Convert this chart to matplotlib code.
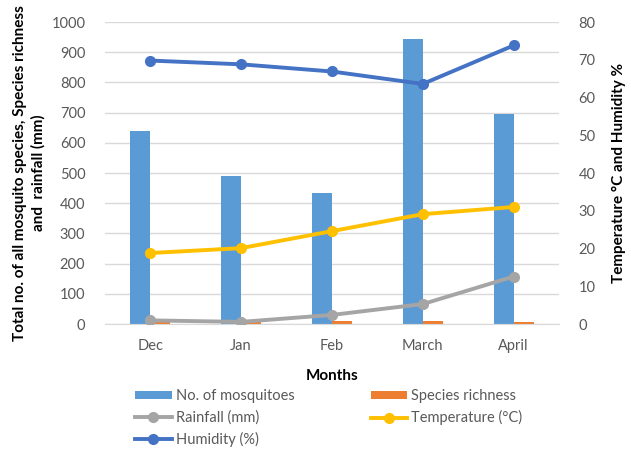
import matplotlib.pyplot as plt
import numpy as np

plt.rcParams['font.family'] = ['Lato', 'DejaVu Sans']

months = ['Dec', 'Jan', 'Feb', 'March', 'April']
mosquitoes = [640, 490, 435, 945, 695]
species_richness = [7, 6, 9, 9, 8]
rainfall = [12, 7, 30, 66, 157]
temperature = [18.8, 20.1, 24.6, 29.1, 31.0]
humidity = [69.8, 68.8, 66.9, 63.6, 73.8]

x = np.arange(len(months))
w = 0.22
tick_color = '#595959'

fig = plt.figure(figsize=(6.31, 4.5), dpi=100)
ax = fig.add_axes([0.166, 0.28, 0.72, 0.671])
ax2 = ax.twinx()

# bars and rainfall on the left axis
b_mosq = ax.bar(x - w / 2, mosquitoes, w, color='#5B9BD5', label='No. of mosquitoes', zorder=2)
b_rich = ax.bar(x + w / 2, species_richness, w, color='#ED7D31', label='Species richness', zorder=2)
l_rain, = ax.plot(x, rainfall, color='#A5A5A5', lw=2.8, marker='o', ms=7,
                  label='Rainfall (mm)', zorder=3)

# temperature and humidity on the right axis
l_temp, = ax2.plot(x, temperature, color='#FFC000', lw=2.8, marker='o', ms=7,
                   label='Temperature (°C)')
l_hum, = ax2.plot(x, humidity, color='#4472C4', lw=2.8, marker='o', ms=7,
                  label='Humidity (%)')

ax.set_xlim(-0.5, 4.5)
ax.set_ylim(0, 1000)
ax.set_yticks(range(0, 1001, 100))
ax2.set_ylim(0, 80)
ax2.set_yticks(range(0, 81, 10))
ax.set_xticks(x)
ax.set_xticklabels(months)

ax.grid(axis='y', color='#D9D9D9', lw=1, zorder=0)
for a in (ax, ax2):
    for s in a.spines.values():
        s.set_visible(False)
    a.tick_params(length=0, colors=tick_color, labelsize=10.5)
ax.spines['bottom'].set_visible(True)
ax.spines['bottom'].set_color('#D9D9D9')
ax.tick_params(axis='y', pad=14)
ax2.tick_params(axis='y', pad=14)
ax.tick_params(axis='x', pad=11)

ax.set_xlabel('Months', fontsize=11, fontweight='bold', labelpad=11)
ax.set_ylabel('Total no. of all mosquito species, Species richness\nand  rainfall (mm)',
              fontsize=11, fontweight='bold', labelpad=4, linespacing=1.4)
ax2.set_ylabel('Temperature °C and Humidity %', fontsize=11, fontweight='bold', labelpad=12)

# legend fills column by column
handles = [b_mosq, l_rain, l_hum, b_rich, l_temp]
labels = [h.get_label() for h in handles]
leg = fig.legend(handles, labels, ncol=2, loc='upper left', bbox_to_anchor=(0.205, 0.148),
                 frameon=False, fontsize=10.5, handlelength=2.5, handleheight=0.5,
                 columnspacing=5.2, labelspacing=0.48, handletextpad=0.3, borderaxespad=0)
for t in leg.get_texts():
    t.set_color(tick_color)

fig.savefig('out.png', dpi=100)
